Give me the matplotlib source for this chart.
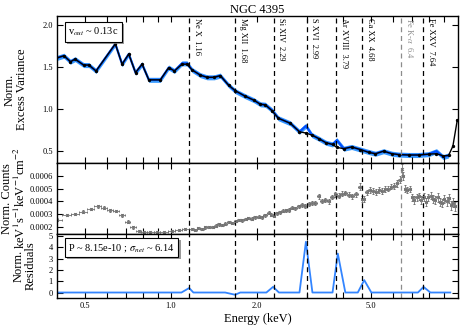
import numpy as np
import matplotlib
matplotlib.use('Agg')
import matplotlib.pyplot as plt
from matplotlib import patheffects
from matplotlib.ticker import FixedLocator, FixedFormatter, FormatStrFormatter

plt.rcParams['font.family'] = ['Liberation Serif', 'DejaVu Serif']
plt.rcParams['mathtext.fontset'] = 'stix'

# --- excess variance spectrum (top) ---
ev_e = [0.396, 0.423, 0.446, 0.463, 0.496, 0.517, 0.548, 0.64, 0.676, 0.713,
        0.753, 0.794, 0.838, 0.92, 0.984, 1.03, 1.095, 1.14, 1.19, 1.27,
        1.34, 1.42, 1.49, 1.595, 1.684, 1.824, 1.95, 2.06, 2.14, 2.26,
        2.38, 2.62, 2.82, 2.97, 3.12, 3.29, 3.49, 3.68, 3.81, 4.03,
        4.29, 4.6, 4.93, 5.2, 5.55, 5.94, 6.27, 6.8, 7.37, 7.98,
        8.5, 8.97, 9.37]
ev_data = [1.60, 1.63, 1.56, 1.59, 1.52, 1.52, 1.45, 1.77, 1.53, 1.65,
           1.43, 1.53, 1.345, 1.345, 1.49, 1.45, 1.54, 1.54, 1.46, 1.40,
           1.375, 1.375, 1.395, 1.28, 1.21, 1.15, 1.105, 1.055, 1.05, 0.985,
           0.89, 0.83, 0.73, 0.80, 0.69, 0.65, 0.60, 0.58, 0.63, 0.53,
           0.55, 0.52, 0.49, 0.47, 0.50, 0.47, 0.46, 0.455, 0.455, 0.465,
           0.50, 0.43, 0.45]
ev_model_e = ev_e + [9.7, 10.05]
ev_model = [1.60, 1.63, 1.56, 1.59, 1.52, 1.52, 1.45, 1.77, 1.53, 1.65,
            1.43, 1.53, 1.345, 1.345, 1.49, 1.45, 1.53, 1.53, 1.46, 1.40,
            1.375, 1.375, 1.395, 1.28, 1.215, 1.15, 1.105, 1.055, 1.05, 0.98,
            0.89, 0.83, 0.73, 0.715, 0.69, 0.65, 0.60, 0.58, 0.545, 0.53,
            0.55, 0.52, 0.485, 0.47, 0.50, 0.47, 0.46, 0.455, 0.455, 0.465,
            0.47, 0.445, 0.45, 0.56, 0.87]
ev_err = 0.03

# --- normalised counts spectrum (middle) ---
cnt_e = [0.399, 0.432, 0.464, 0.494, 0.526, 0.556, 0.586, 0.615, 0.646, 0.676,
         0.707, 0.736, 0.773, 0.805, 0.849, 0.895, 0.945, 1.01, 1.066, 1.126,
         1.187, 1.22, 1.25, 1.29, 1.32, 1.36, 1.40, 1.44, 1.47, 1.51,
         1.55, 1.60, 1.64, 1.69, 1.73, 1.78, 1.83, 1.87, 1.92, 1.97,
         2.03, 2.08, 2.14, 2.20, 2.25, 2.29, 2.35, 2.41, 2.47, 2.53,
         2.59, 2.65, 2.72, 2.80, 2.88, 2.96, 3.04, 3.12, 3.20, 3.29,
         3.38, 3.47, 3.57, 3.66, 3.76, 3.87, 3.97, 4.08, 4.20, 4.32,
         4.45, 4.58, 4.65, 4.74, 4.85, 4.97, 5.10, 5.23, 5.37, 5.50,
         5.63, 5.77, 5.90, 6.05, 6.20, 6.32, 6.42, 6.50, 6.60, 6.72,
         6.85, 6.98, 7.10, 7.25, 7.38, 7.52, 7.66, 7.80, 7.95, 8.10,
         8.26, 8.42, 8.58, 8.74, 8.90, 9.06, 9.22, 9.38, 9.55, 9.72,
         9.88]
cnt_v = [2.55, 2.94, 3.00, 3.20, 3.40, 3.60, 3.50, 3.30, 3.25, 2.90,
         2.40, 1.95, 1.70, 1.63, 1.58, 1.58, 1.58, 1.70, 1.76, 1.84,
         1.80, 1.78, 1.90, 1.86, 1.95, 2.00, 1.97, 2.10, 2.20, 2.15,
         2.25, 2.37, 2.30, 2.45, 2.55, 2.50, 2.62, 2.70, 2.65, 2.75,
         2.80, 2.75, 2.90, 3.10, 2.95, 2.86, 3.05, 3.15, 3.25, 3.30,
         3.30, 3.50, 3.45, 3.60, 3.70, 3.65, 3.80, 3.90, 3.85, 4.40,
         4.05, 4.10, 4.00, 4.35, 4.55, 4.45, 4.60, 4.65, 4.50, 4.40,
         4.55, 5.15, 4.20, 4.17, 4.70, 4.90, 4.80, 4.75, 4.90, 4.80,
         4.95, 5.00, 5.15, 5.20, 5.40, 5.70, 6.50, 6.00, 5.00, 4.90,
         4.95, 4.30, 4.10, 4.30, 4.40, 4.10, 4.35, 3.95, 4.30, 4.45,
         4.20, 4.10, 4.30, 3.95, 3.90, 4.20, 4.00, 4.25, 3.70, 3.90,
         3.60]
cnt_err = [0.12, 0.10, 0.10, 0.10, 0.10, 0.10, 0.10, 0.10, 0.10, 0.10,
           0.10, 0.08, 0.08, 0.08, 0.08, 0.08, 0.08, 0.08, 0.08, 0.08,
           0.08, 0.08, 0.08, 0.08, 0.08, 0.08, 0.08, 0.10, 0.10, 0.10,
           0.10, 0.10, 0.10, 0.10, 0.10, 0.10, 0.10, 0.10, 0.10, 0.10,
           0.12, 0.12, 0.12, 0.12, 0.12, 0.12, 0.12, 0.12, 0.12, 0.12,
           0.14, 0.14, 0.14, 0.14, 0.14, 0.14, 0.15, 0.15, 0.15, 0.20,
           0.15, 0.15, 0.18, 0.18, 0.18, 0.18, 0.18, 0.18, 0.20, 0.20,
           0.20, 0.25, 0.22, 0.22, 0.22, 0.22, 0.22, 0.22, 0.22, 0.22,
           0.22, 0.22, 0.22, 0.22, 0.25, 0.30, 0.40, 0.30, 0.25, 0.25,
           0.25, 0.28, 0.28, 0.28, 0.28, 0.28, 0.30, 0.30, 0.30, 0.30,
           0.30, 0.30, 0.32, 0.32, 0.32, 0.32, 0.35, 0.35, 0.35, 0.35,
           0.35]
cnt_scale = 1e-4

# --- residuals (bottom) ---
res_e = [0.396, 1.09, 1.16, 1.2, 1.55, 1.68, 1.75, 2.16, 2.28, 2.39, 2.82, 2.97,
         3.13, 3.68, 3.84, 4.08, 4.51, 4.75, 5.03, 7.32, 7.66, 8.09, 9.5]
res_v = [0, 0, 0.4, 0, 0, -0.2, 0, 0, 0.5, 0, 0, 4.5,
         0, 0, 3.45, 0, 0, 1.1, 0, 0, 0.5, 0, 0]

# --- line identifications ---
line_e = [1.16, 1.68, 2.29, 2.99, 3.79, 4.68, 6.4, 7.64]
line_lab = ['Ne X  1.16', 'Mg XII  1.68', 'Si XIV  2.29', 'S XVI  2.99',
            'Ar XVIII  3.79', 'Ca XX  4.68', r'Fe K-$\alpha$  6.4', 'Fe XXV  7.64']
line_col = ['k', 'k', 'k', 'k', 'k', 'k', '0.55', 'k']

fig = plt.figure(figsize=(4.63, 3.28), dpi=100)
ax1 = fig.add_axes([0.123, 0.503, 0.866, 0.448])
ax2 = fig.add_axes([0.123, 0.287, 0.866, 0.216])
ax3 = fig.add_axes([0.123, 0.091, 0.866, 0.196])

ev_data = np.array(ev_data)
ax1.fill_between(ev_e, ev_data - ev_err, ev_data + ev_err, color='#3a9bff', lw=0)
ax1.plot(ev_e, ev_data, color='#0050ff', lw=1.6)
ax1.plot(ev_model_e, ev_model, color='k', lw=1.0, marker='o', ms=1.4)

cnt_e_arr = np.array(cnt_e)
edges = np.sqrt(cnt_e_arr[1:] * cnt_e_arr[:-1])
lo = np.concatenate([[cnt_e_arr[0] - (edges[0] - cnt_e_arr[0])], edges])
hi = np.concatenate([edges, [cnt_e_arr[-1] + (cnt_e_arr[-1] - edges[-1])]])
ax2.errorbar(cnt_e_arr, np.array(cnt_v) * cnt_scale,
             xerr=[cnt_e_arr - lo, hi - cnt_e_arr],
             yerr=np.array(cnt_err) * cnt_scale,
             fmt='x', ms=2.0, mew=0.7, color='0.45', elinewidth=0.6, capsize=1.0)

ax3.plot(res_e, res_v, color='#3385ff', lw=1.3)

for ax in (ax1, ax2, ax3):
    for e, c in zip(line_e, line_col):
        ax.axvline(e, color=c, ls=(0, (4, 3)), lw=0.9)
    ax.set_xscale('log')
    ax.set_xlim(0.4, 10.1)
    ax.xaxis.set_major_locator(FixedLocator([0.5, 1.0, 2.0, 5.0]))
    ax.xaxis.set_major_formatter(FixedFormatter(['0.5', '1.0', '2.0', '5.0']))
    ax.xaxis.set_minor_locator(FixedLocator([0.6, 0.7, 0.8, 0.9, 3, 4, 6, 7, 8, 9]))
    ax.tick_params(which='both', direction='in', top=True, right=True,
                   labelsize=6, length=4, width=0.8, pad=3)
    for s in ax.spines.values():
        s.set_linewidth(1.0)

ax1.tick_params(labelbottom=False)
ax2.tick_params(labelbottom=False)

for e, lab, c in zip(line_e, line_lab, line_col):
    ax1.text(e * 1.028, 0.985, lab, rotation=270, ha='left', va='top',
             fontsize=6, color=c, transform=ax1.get_xaxis_transform())

ax1.set_ylim(0.36, 2.1)
ax1.set_yticks([0.5, 1.0, 1.5, 2.0])
ax1.yaxis.set_major_formatter(FormatStrFormatter('%.1f'))
ax1.set_ylabel('Norm.\nExcess Variance', fontsize=9, linespacing=1.0)
ax1.yaxis.set_label_coords(-0.072, 0.5)
ax1.set_title('NGC 4395', fontsize=9, pad=2)

ax2.set_ylim(0.000145, 0.0007)
ax2.set_yticks([0.0002, 0.0003, 0.0004, 0.0005, 0.0006])
ax2.yaxis.set_major_formatter(FormatStrFormatter('%.4f'))
ax2.set_ylabel('Norm. Counts\nkeV$^{1}$s$^{-1}$keV$^{-1}$cm$^{-2}$', fontsize=9, linespacing=1.0)
ax2.yaxis.set_label_coords(-0.072, 0.5)

ax3.set_ylim(-0.5, 5.2)
ax3.set_yticks([0, 1, 2, 3, 4, 5])
ax3.set_ylabel('Norm.\nResiduals', fontsize=9, linespacing=1.0)
ax3.yaxis.set_label_coords(-0.05, 0.5)
ax3.set_xlabel('Energy (keV)', fontsize=9, labelpad=2)

shadow = [patheffects.withSimplePatchShadow(offset=(1.5, -1.5), shadow_rgbFace='0.5', alpha=0.8)]
t1 = ax1.text(0.028, 0.935, r'v$_{out}$ ~ 0.13c', transform=ax1.transAxes,
              ha='left', va='top', fontsize=7.5,
              bbox=dict(boxstyle='square,pad=0.35', fc='white', ec='k', lw=0.8))
t1.get_bbox_patch().set_path_effects(shadow)
t2 = ax3.text(0.028, 0.88, r'P ~ 8.15e-10 ; $\sigma_{net}$ ~ 6.14', transform=ax3.transAxes,
              ha='left', va='top', fontsize=7.5,
              bbox=dict(boxstyle='square,pad=0.35', fc='white', ec='k', lw=0.8))
t2.get_bbox_patch().set_path_effects(shadow)

fig.savefig('out.png', dpi=100)
